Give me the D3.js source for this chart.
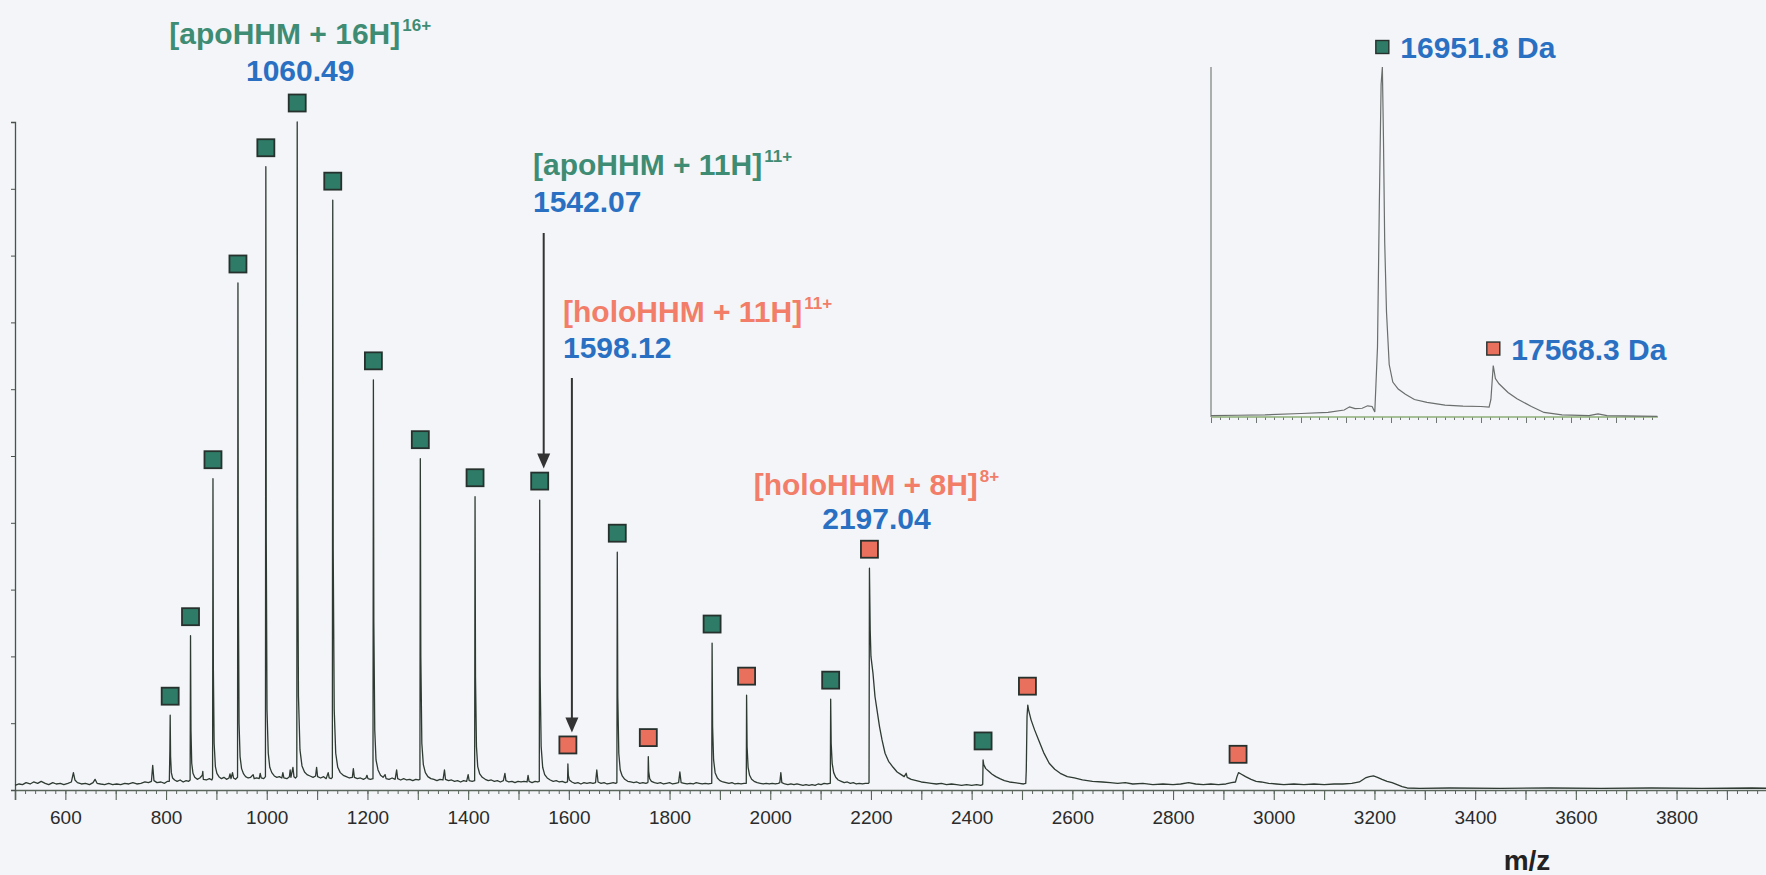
<!DOCTYPE html>
<html>
<head>
<meta charset="utf-8">
<script src="https://cdn.jsdelivr.net/npm/d3@7/dist/d3.min.js"></script>
<style>
  body { margin: 0; background: #f3f5f8; overflow: hidden; }
  svg { display: block; font-family: 'Liberation Sans', Arial, Helvetica, sans-serif; }
</style>
</head>
<body>
<div id="chart-container"></div>
<script>
// tick labels on the m/z axis
const xTickLabels = [600, 800, 1000, 1200, 1400, 1600, 1800, 2000, 2200, 2400, 2600, 2800, 3000, 3200, 3400, 3600, 3800];

// charge state series (m/z, relative intensity %)
const apoMz = [808.2, 848.6, 893.2, 942.8, 998.2, 1060.5, 1131.1, 1211.8, 1305.0, 1413.7, 1542.1, 1696.2, 1884.5, 2120.0, 2422.7];
const apoHeight = [11.2, 23.1, 46.6, 75.9, 93.3, 100, 88.3, 61.4, 49.6, 43.9, 43.4, 35.6, 22.0, 13.6, 4.5];
const holoMz = [1598.1, 1757.8, 1953.0, 2197.0, 2510.8, 2929.1];
const holoHeight = [3.9, 5.0, 14.2, 33.2, 12.7, 2.5];

// deconvoluted masses shown in the inset
const insetMass = [16951.8, 17568.3];
const insetHeight = [100, 14.7];
const insetKind = ['apo', 'holo'];

// raw spectrum trace [m/z, %]
const trace = [
  [500,0.7],[508,0.9],[515,0.8],[522,1.1],[530,0.9],[537,1.2],[545,1.0],[552,1.3],[560,1.0],[567,0.8],
  [575,1.1],[582,0.9],[590,1.0],[597,0.8],[605,1.0],[612,1.2],[616,2.6],[619,1.5],[624,1.1],[632,0.9],
  [640,1.0],[648,0.8],[655,1.1],[659,1.6],[663,1.0],[670,0.9],[678,0.8],[686,1.0],[694,0.8],[702,0.9],
  [710,0.8],[718,1.0],[726,0.9],[734,1.1],[742,0.9],[750,1.0],[758,1.2],[765,1.1],[771,1.3],[773.5,3.7],
  [776,1.4],[782,1.1],[790,1.2],[797,1.0],[803,1.3],
  [806.5,1.3],[807.6,6],[808.2,11.2],[809,5],[810.5,2.6],[813,1.8],[817,1.5],[822,1.3],[828,1.5],[834,1.2],[840,1.4],[845,1.3],
  [847.8,1.5],[848.6,23.1],[849.5,9],[851,4],[853.5,2.5],[857,1.9],[862,1.6],[867,1.8],[872,2.2],[873,2.8],[874,1.6],[880,1.5],[886,1.7],[891,1.5],
  [892.4,1.8],[893.2,46.6],[894,18],[895.5,7],[898,3.5],[901,2.5],[905,2.0],[910,1.7],[915,1.9],[920,1.6],[925,1.8],[927,2.4],[929,1.7],[932,2.6],[934,1.8],[938,1.6],
  [942,1.9],[942.8,75.9],[943.6,30],[945,10],[947,5],[950,3.2],[954,2.4],[958,2.0],[963,1.8],[968,1.9],[973,2.3],[975,1.7],[980,1.8],[985,1.7],[987,2.5],[989,1.8],[994,1.7],
  [997.4,2.0],[998.2,93.3],[999,38],[1000.5,12],[1003,5.5],[1006,3.4],[1010,2.6],[1015,2.1],[1020,1.9],[1025,2.0],[1030,1.8],[1032,2.6],[1034,1.8],[1040,1.7],[1045,2.0],[1046.5,3.0],[1048,1.9],[1052,3.4],[1054,2.0],[1057,1.8],
  [1059.7,2.0],[1060.5,100],[1061.3,42],[1063,14],[1066,6],[1070,3.6],[1075,2.7],[1080,2.3],[1086,2.1],[1092,1.9],[1097,2.1],[1099,3.4],[1101,2.0],[1107,1.8],[1113,2.0],[1118,1.7],[1122,2.6],[1124,1.8],[1128,1.7],
  [1130.3,1.9],[1131.1,88.3],[1132,36],[1134,12],[1137,5.5],[1141,3.4],[1146,2.6],[1152,2.2],[1158,2.0],[1164,1.8],[1170,1.9],[1172,3.2],[1174,1.9],[1180,1.7],[1186,1.8],[1192,1.6],[1197,1.8],[1199,2.2],[1201,1.7],[1206,1.6],
  [1211,1.7],[1211.8,61.4],[1212.7,25],[1214.5,9],[1217,4.5],[1221,3.0],[1226,2.2],[1231,1.9],[1235,2.3],[1237,1.7],[1243,1.6],[1249,1.8],[1255,1.6],[1258,3.0],[1260,1.7],[1266,1.5],[1272,1.7],[1278,1.5],[1284,1.6],[1290,1.4],[1296,1.6],[1301,1.5],
  [1304.2,1.6],[1305,49.6],[1306,20],[1308,7],[1311,3.8],[1315,2.6],[1320,2.0],[1326,1.7],[1332,1.6],[1338,1.4],[1344,1.6],[1350,1.5],[1353,3.0],[1355,1.6],[1361,1.4],[1367,1.5],[1373,1.3],[1379,1.4],[1385,1.2],[1391,1.4],[1397,1.3],[1400,2.3],[1402,1.4],[1408,1.3],
  [1412.9,1.4],[1413.7,43.9],[1414.6,17],[1416.5,6.5],[1419,3.5],[1423,2.4],[1428,1.9],[1434,1.6],[1440,1.4],[1446,1.5],[1452,1.3],[1458,1.4],[1464,1.2],[1470,1.4],[1473,2.5],[1475,1.4],[1481,1.2],[1487,1.3],[1493,1.1],[1499,1.3],[1505,1.2],[1511,1.3],[1517,1.2],[1519,2.2],[1521,1.3],[1527,1.1],[1533,1.3],[1538,1.2],
  [1541.3,1.3],[1542.1,43.4],[1543,17],[1545,6.5],[1548,3.4],[1552,2.3],[1557,1.8],[1563,1.5],[1569,1.3],[1575,1.4],[1581,1.2],[1587,1.3],[1593,1.1],[1597,1.2],
  [1597.4,1.3],[1598.1,3.9],[1599,2.2],[1601,1.5],[1606,1.2],[1612,1.0],[1618,1.1],[1624,0.9],[1630,1.1],[1636,1.0],[1642,1.1],[1648,1.0],[1653,1.1],[1655.5,3.0],[1658,1.2],[1664,1.0],[1670,1.1],[1676,0.9],[1682,1.0],[1688,1.1],[1693,1.0],
  [1695.4,1.1],[1696.2,35.6],[1697.2,14],[1699.2,5.5],[1702,3.0],[1706,2.1],[1711,1.6],[1717,1.3],[1723,1.2],[1729,1.1],[1735,1.2],[1741,1.0],[1747,1.1],[1753,1.0],[1756.5,1.1],
  [1757.2,1.2],[1757.8,5.0],[1758.6,2.8],[1760.5,1.7],[1764,1.3],[1770,1.1],[1776,1.0],[1782,1.1],[1788,0.9],[1794,1.0],[1800,1.1],[1806,0.9],[1812,1.0],[1818,1.1],[1820.5,2.7],[1823,1.1],[1829,1.0],[1835,0.9],[1841,1.0],[1847,0.9],[1853,1.1],[1859,1.0],[1865,0.9],[1871,1.0],[1877,0.9],[1883,1.0],
  [1883.8,1.0],[1884.5,22.0],[1885.5,9.5],[1887.5,4.5],[1890.5,2.6],[1895,1.8],[1900,1.4],[1906,1.2],[1912,1.1],[1918,1.0],[1924,1.1],[1930,0.9],[1936,1.0],[1942,0.9],[1948,1.0],[1952,1.0],
  [1952.4,1.0],[1953,14.2],[1954,6.5],[1956,3.4],[1959,2.2],[1963,1.6],[1968,1.3],[1974,1.1],[1980,1.0],[1986,0.9],[1992,1.0],[1998,0.9],[2004,1.0],[2010,0.9],[2016,1.0],[2019,1.1],[2021,2.6],[2023,1.1],[2029,0.9],[2035,0.8],[2041,0.9],[2047,0.8],[2053,0.9],[2059,0.8],[2065,0.7],[2071,0.8],[2077,0.7],[2083,0.8],[2089,0.7],[2095,0.9],[2101,0.8],[2107,1.0],[2113,0.9],[2118,1.0],
  [2119.3,1.0],[2120,13.6],[2121,7],[2123,4],[2126,2.6],[2130,1.9],[2135,1.5],[2141,1.3],[2147,1.1],[2153,1.2],[2159,1.0],[2165,1.1],[2171,0.9],[2177,1.0],[2183,0.9],[2189,1.0],[2195,1.0],
  [2196.2,1.1],[2197,33.2],[2198.5,24],[2200,20],[2204,17.5],[2208,14],[2212,12],[2217,9.5],[2222,7.5],[2228,5.5],[2235,4.3],[2244,3.4],[2252,2.7],[2260,2.3],[2266,2.0],[2270,2.5],[2272,1.9],[2280,1.6],[2290,1.4],[2300,1.2],[2310,1.1],[2320,1.0],[2330,0.9],[2340,1.0],[2350,0.8],[2360,0.9],[2370,0.8],[2380,0.7],[2390,0.8],[2400,0.7],[2410,0.8],[2418,0.7],[2421.5,0.8],
  [2422,0.9],[2422.7,4.5],[2424,3.8],[2428,3.2],[2434,2.8],[2440,2.4],[2448,2.0],[2456,1.7],[2465,1.4],[2475,1.2],[2485,1.1],[2495,1.0],[2503,0.9],[2507.5,1.0],
  [2508.5,3],[2510,11],[2511.5,12.7],[2513,12.0],[2518,10.5],[2525,9.0],[2533,7.5],[2543,5.6],[2554,4.0],[2565,3.1],[2576,2.5],[2590,2.0],[2604,1.8],[2620,1.5],[2640,1.3],[2660,1.2],[2675,1.1],[2690,1.0],[2705,1.1],[2720,0.9],[2740,1.0],[2760,0.8],[2780,0.9],[2800,0.8],[2815,0.9],[2831,1.1],[2845,0.9],[2860,0.8],[2875,0.9],[2890,0.8],[2905,0.9],[2916,1.1],[2924,1.2],
  [2927,2.0],[2930,2.6],[2935,2.4],[2944,2.0],[2955,1.6],[2965,1.3],[2975,1.2],[2990,1.0],[3005,0.9],[3020,0.8],[3040,0.9],[3060,0.8],[3080,0.9],[3100,0.8],[3120,0.9],[3137,0.9],[3155,1.0],[3170,1.2],[3182,1.8],[3190,2.0],[3198,2.1],[3206,1.9],[3215,1.6],[3225,1.3],[3235,1.1],[3245,0.8],[3255,0.5],[3265,0.3],
  [3290,0.25],[3350,0.3],[3450,0.25],[3550,0.3],[3650,0.25],[3750,0.3],[3850,0.25],[3950,0.3],[3990,0.25]
];

// deconvoluted trace for the inset [mass Da, %]
const insetTrace = [
  [16000,0.4],[16150,0.5],[16300,0.6],[16500,1.0],[16650,1.3],[16740,2.0],[16770,2.9],[16800,2.4],[16840,2.5],[16870,3.2],
  [16895,3.0],[16910,1.4],[16925,20],[16935,60],[16945,95],[16952,100],[16958,80],[16965,50],[16975,30],[16990,15],
  [17010,10],[17040,8.0],[17080,6.5],[17130,5.0],[17200,4.2],[17300,3.4],[17400,3.1],[17500,3.0],[17545,2.8],[17555,5],
  [17568,14.7],[17580,11],[17600,9.5],[17650,7.0],[17700,5.2],[17780,3.0],[17850,1.3],[17950,0.6],[18100,0.4],[18150,0.9],
  [18200,0.4],[18480,0.2]
];

// annotation text
const ionLabels = [
  { kind: 'apo', ion: '[apoHHM + 16H]', charge: '16+', value: '1060.49', mz: 1060.5 },
  { kind: 'apo', ion: '[apoHHM + 11H]', charge: '11+', value: '1542.07', mz: 1542.1 },
  { kind: 'holo', ion: '[holoHHM + 11H]', charge: '11+', value: '1598.12', mz: 1598.1 },
  { kind: 'holo', ion: '[holoHHM + 8H]', charge: '8+', value: '2197.04', mz: 2197.0 }
];

// layout for annotations (pixels)
const labelLayout = [
  { dx: 3, anchor: 'middle', y1: 44, y2: 81 },
  { left: 533, anchor: 'start', y1: 175, y2: 212, arrowTop: 233 },
  { left: 563, anchor: 'start', y1: 322, y2: 358, arrowTop: 378 },
  { dx: 7, anchor: 'middle', y1: 495, y2: 529 }
];

const colors = {
  apoText: '#3f8c74',
  holoText: '#f27d68',
  value: '#2a70c2',
  apoFill: '#2e7c68',
  holoFill: '#e8705d',
  markerStroke: '#26302c'
};

const width = 1766;
const height = 875;

const svg = d3
  .select('#chart-container')
  .append('svg')
  .attr('width', width)
  .attr('height', height);

svg.append('rect').attr('width', width).attr('height', height).attr('fill', '#f3f5f8');

// main scales
const x = d3.scaleLinear().domain([500, 4000]).range([15, 1777.25]);
const y = d3.scaleLinear().domain([0, 100]).range([790, 122]);

// minor ticks on x
svg
  .append('g')
  .attr('transform', `translate(0,${y(0)})`)
  .call(d3.axisBottom(x).tickValues(d3.range(500, 4000, 20)).tickSize(4).tickFormat(''))
  .call((g) => g.select('.domain').remove())
  .call((g) => g.selectAll('line').attr('stroke', '#5a665c'));

// major ticks + labels
svg
  .append('g')
  .attr('transform', `translate(0,${y(0)})`)
  .call(
    d3
      .axisBottom(x)
      .tickValues(d3.range(500, 4000, 100))
      .tickSize(10)
      .tickPadding(11)
      .tickFormat((d) => (xTickLabels.includes(d) ? d : ''))
  )
  .call((g) => g.select('.domain').attr('stroke', '#5a665c').attr('stroke-width', 1.6))
  .call((g) => g.selectAll('line').attr('stroke', '#5a665c').attr('stroke-width', 1.1))
  .call((g) =>
    g.selectAll('text').style('font-size', '19px').style('font-family', "'Liberation Sans', Arial, sans-serif").attr('fill', '#2b2b2b')
  );

// y axis, no labels
svg
  .append('g')
  .attr('transform', `translate(${x(500)},0)`)
  .call(d3.axisLeft(y).tickValues(d3.range(0, 101, 10)).tickSize(4).tickFormat(''))
  .call((g) => g.select('.domain').attr('stroke', '#4a524c').attr('stroke-width', 1.3))
  .call((g) => g.selectAll('line').attr('stroke', '#4a524c'));

// axis title
svg
  .append('text')
  .attr('x', 1527)
  .attr('y', 870)
  .attr('text-anchor', 'middle')
  .style('font-size', '28px')
  .style('font-weight', 'bold')
  .attr('fill', '#222')
  .text('m/z');

// spectrum line
const line = d3
  .line()
  .x((d) => x(d[0]))
  .y((d) => y(d[1]));

svg
  .append('path')
  .datum(trace)
  .attr('fill', 'none')
  .attr('stroke', '#2e3a32')
  .attr('stroke-width', 1.3)
  .attr('stroke-linejoin', 'round')
  .attr('d', line);

// square markers above the charge states
const markerSize = 17;
const markerGap = 19;
const drawMarkers = (mzs, heights, fill) => {
  svg
    .append('g')
    .selectAll('rect')
    .data(mzs)
    .join('rect')
    .attr('x', (d) => x(d) - markerSize / 2)
    .attr('y', (d, i) => y(heights[i]) - markerGap - markerSize / 2)
    .attr('width', markerSize)
    .attr('height', markerSize)
    .attr('fill', fill)
    .attr('stroke', colors.markerStroke)
    .attr('stroke-width', 1.8);
};
drawMarkers(apoMz, apoHeight, colors.apoFill);
drawMarkers(holoMz, holoHeight, colors.holoFill);

// ion labels
ionLabels.forEach((lab, i) => {
  const lay = labelLayout[i];
  const lx = lay.anchor === 'middle' ? x(lab.mz) + lay.dx : lay.left;
  const t = svg
    .append('text')
    .attr('x', lx)
    .attr('y', lay.y1)
    .attr('text-anchor', lay.anchor)
    .attr('fill', lab.kind === 'apo' ? colors.apoText : colors.holoText)
    .style('font-size', '30px')
    .style('font-weight', 'bold');
  t.append('tspan').text(lab.ion);
  t.append('tspan').attr('dy', -13).attr('dx', 2).style('font-size', '17px').text(lab.charge);

  svg
    .append('text')
    .attr('x', lx)
    .attr('y', lay.y2)
    .attr('text-anchor', lay.anchor)
    .attr('fill', colors.value)
    .style('font-size', '30px')
    .style('font-weight', 'bold')
    .text(lab.value);

  // arrows pointing down to the marker
  if (lay.arrowTop) {
    const idx = lab.kind === 'apo' ? apoMz.indexOf(lab.mz) : holoMz.indexOf(lab.mz);
    const h = lab.kind === 'apo' ? apoHeight[idx] : holoHeight[idx];
    const ax = x(lab.mz) + 4;
    const tip = y(h) - markerGap - markerSize / 2 - 4;
    svg
      .append('line')
      .attr('x1', ax)
      .attr('x2', ax)
      .attr('y1', lay.arrowTop)
      .attr('y2', tip - 12)
      .attr('stroke', '#333')
      .attr('stroke-width', 2);
    svg
      .append('path')
      .attr('d', `M${ax - 6.5},${tip - 15}L${ax + 6.5},${tip - 15}L${ax},${tip}Z`)
      .attr('fill', '#333');
  }
});

// ---- inset: deconvoluted spectrum ----
const xi = d3.scaleLinear().domain([16000, 18500]).range([1211, 1661]);
const yi = d3.scaleLinear().domain([0, 100]).range([417, 67]);
const insetEnd = 18483;

const inset = svg.append('g');

inset
  .append('line')
  .attr('x1', xi(16000))
  .attr('x2', xi(16000))
  .attr('y1', yi(0))
  .attr('y2', yi(100))
  .attr('stroke', '#7a7f7c')
  .attr('stroke-width', 1.2);

inset
  .append('g')
  .attr('transform', `translate(0,${yi(0)})`)
  .call(d3.axisBottom(xi).tickValues(d3.range(16000, insetEnd, 50)).tickSize(3).tickFormat(''))
  .call((g) => g.select('.domain').remove())
  .call((g) => g.selectAll('line').attr('stroke', '#6f7572'));

inset
  .append('g')
  .attr('transform', `translate(0,${yi(0)})`)
  .call(d3.axisBottom(xi).tickValues(d3.range(16000, insetEnd, 250)).tickSize(6).tickFormat(''))
  .call((g) => g.select('.domain').remove())
  .call((g) => g.selectAll('line').attr('stroke', '#6f7572'));

inset
  .append('line')
  .attr('x1', xi(16000))
  .attr('x2', xi(insetEnd))
  .attr('y1', yi(0))
  .attr('y2', yi(0))
  .attr('stroke', '#8fae78')
  .attr('stroke-width', 1.6);

inset
  .append('path')
  .datum(insetTrace)
  .attr('fill', 'none')
  .attr('stroke', '#6a6e6c')
  .attr('stroke-width', 1.2)
  .attr('d', d3.line().x((d) => xi(d[0])).y((d) => yi(d[1])));

const insetMarker = 13;
const insetMarkerY = [47, 349];
insetMass.forEach((m, i) => {
  const cy = insetKind[i] === 'apo' ? yi(insetHeight[i]) - 20 : yi(insetHeight[i]) - 17;
  inset
    .append('rect')
    .attr('x', xi(m) - insetMarker / 2)
    .attr('y', cy - insetMarker / 2)
    .attr('width', insetMarker)
    .attr('height', insetMarker)
    .attr('fill', insetKind[i] === 'apo' ? colors.apoFill : colors.holoFill)
    .attr('stroke', colors.markerStroke)
    .attr('stroke-width', 1.4);
  inset
    .append('text')
    .attr('x', xi(m) + 18)
    .attr('y', cy + 11)
    .attr('fill', colors.value)
    .style('font-size', '30px')
    .style('font-weight', 'bold')
    .text(`${m.toFixed(1)} Da`);
});
</script>
</body>
</html>
